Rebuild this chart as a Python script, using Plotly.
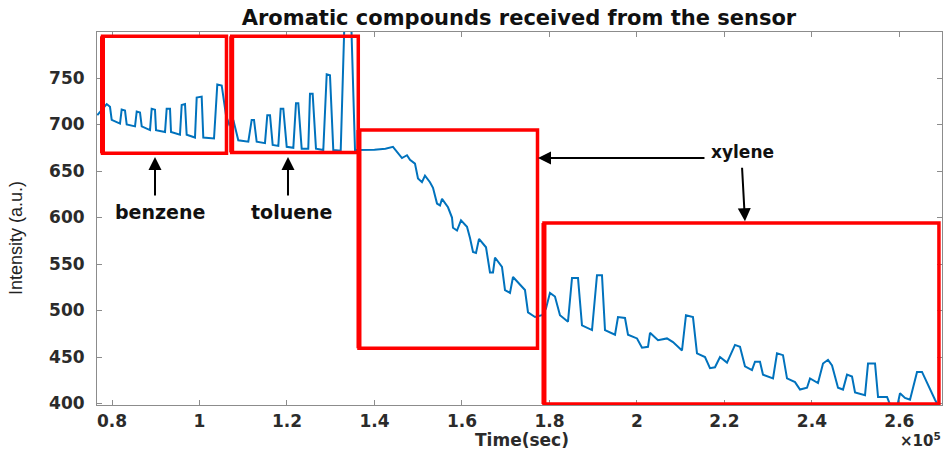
import plotly.graph_objects as go

# ---------------- data ----------------
time_s = [
    # benzene
    76640, 78790, 79540, 79930, 81830,
    82210, 82970, 83360, 85260,
    85650, 86400, 86790, 88690,
    89070, 89830, 90060, 92120,
    92500, 93260, 93490, 95540,
    95930, 96690, 97070, 98970,
    99360, 100500, 100870, 103320,
    104070, 105080, 106060,
    # toluene
    106800, 107730, 108870, 111160,
    111930, 112460, 113070, 114970,
    115500, 116120, 116730, 118020,
    118560, 119160, 119940, 121450,
    122060, 122590, 123360, 124870,
    125260, 125870, 126630, 128300,
    129080, 129830, 130590, 132280,
    133260, 134560, 135550,
    # xylene
    137150, 140000, 142500, 144230,
    146290, 147430, 148120, 149260, 149950, 150860, 151550, 152690,
    153380, 154300, 154980, 155440, 156810, 157720, 157950, 158870,
    159780, 161150, 161840, 162530, 163210, 163900, 165500, 165950,
    166410, 167100, 167550, 169150, 169840, 170980, 171670, 174410,
    175100, 176700,
    178300, 179200, 180120, 181260, 182410, 184240, 185160, 186530,
    187440, 189730, 190870, 192010, 192700, 194990, 195670, 197270,
    197960, 200020, 201160, 202530, 202990, 204820, 206870, 208240,
    210300, 211210, 212810, 213730, 215560, 216700, 217840, 218990,
    220590, 222420, 223560, 224700, 226300, 226990, 228130, 228820,
    231110, 232020, 233390, 234310, 236140, 237280, 238880, 239570,
    241390, 242540, 243680, 244600, 245970, 247110, 248030, 249170,
    249860, 252140, 252830, 254430, 255120, 257180, 258090, 259460,
    260140, 261280, 262430, 264030, 265170, 268140, 268830, 269510,
]
intensity = [
    # benzene
    710, 722, 719, 705, 701,
    716, 715, 700, 698,
    714, 713, 698, 694,
    717, 716, 694, 692,
    717, 717, 692, 689,
    721, 722, 689, 686,
    729, 730, 686, 685,
    743, 742, 710,
    # toluene
    700, 705, 683, 681.5,
    705, 705, 681.5, 680,
    710, 710, 678, 677,
    717, 717, 676, 675,
    723, 723, 674, 674,
    733, 733, 674, 672.6,
    754, 753, 672.6, 671.8,
    830, 830, 672.6,
    # xylene
    672.5, 673, 674, 676,
    664, 667, 662, 658, 642, 638, 645, 638,
    632, 615, 613, 620, 611, 600, 589, 586,
    597, 590, 578, 563, 562, 577, 568, 556,
    541, 541, 557, 547, 522, 519, 536, 522,
    498, 493,
    495, 502, 519, 515, 495, 488, 535, 535,
    484, 479, 538, 538, 479, 474, 493, 492,
    474, 470, 460, 461, 476, 468, 470, 466,
    457, 495, 493, 454, 450, 438, 439, 450,
    444, 463, 461, 440, 436, 445, 445, 431,
    427, 454, 452, 427, 423, 415, 417, 427,
    422, 443, 447, 441, 417, 415, 431, 429,
    412, 409, 443, 443, 407, 407, 396, 396,
    411, 406, 404, 434, 434, 404, 398, 396,
]

x_tick_vals = [80000, 100000, 120000, 140000, 160000, 180000, 200000, 220000, 240000, 260000]
x_tick_text = ["0.8", "1", "1.2", "1.4", "1.6", "1.8", "2", "2.2", "2.4", "2.6"]
y_tick_vals = [400, 450, 500, 550, 600, 650, 700, 750]

# region boxes (time start, time end, intensity low, intensity high)
box_t0 = [77830, 107360, 136460, 178750]
box_t1 = [106170, 136300, 177270, 269040]
box_v0 = [669, 670, 459.4, 399.5]
box_v1 = [794.9, 794.9, 694, 594]

label_names = ["benzene", "toluene", "xylene"]

# ---------------- figure ----------------
W, H = 947, 452
M_L, M_R, M_T, M_B = 97, 5, 32, 47
PW, PH = W - M_L - M_R, H - M_T - M_B

def px_x(p):
    return (p - M_L) / PW

def px_y(p):
    return (H - M_B - p) / PH

fig = go.Figure()
fig.add_trace(go.Scatter(
    x=time_s, y=intensity, mode="lines",
    line=dict(color="#0072BD", width=2),
    hoverinfo="skip", showlegend=False,
))

shapes = []
for a, b, c, d in zip(box_t0, box_t1, box_v0, box_v1):
    shapes.append(dict(type="rect", xref="x", yref="y", x0=a, x1=b, y0=c, y1=d,
                       line=dict(color="#FF0000", width=3.5), layer="above"))
    shapes.append(dict(type="line", xref="x", yref="y", x0=a, x1=a, y0=c, y1=d,
                       line=dict(color="#FF0000", width=5), layer="above"))

tick_font = dict(family="DejaVu Sans", size=17, color="#2b2b2b", weight="bold")
label_font = dict(family="DejaVu Sans", size=19, color="#111111", weight="bold")

def arrow(x, y, ax, ay):
    return dict(x=x, y=y, xref="x", yref="y", ax=ax, ay=ay, axref="pixel", ayref="pixel",
                text="", showarrow=True, arrowhead=2, arrowsize=1.3, arrowwidth=2,
                arrowcolor="#000000")

annotations = [
    arrow(89830, 665, 0, 40),
    arrow(120230, 665, 0, 40),
    arrow(177380, 664, 168, 0),
    arrow(224700, 596, -3, -55),
    dict(x=90970, y=606, xref="x", yref="y", text=label_names[0], showarrow=False,
         font=label_font, xanchor="center", yanchor="middle"),
    dict(x=120920, y=606, xref="x", yref="y", text=label_names[1], showarrow=False,
         font=label_font, xanchor="center", yanchor="middle"),
    dict(x=224130, y=670, xref="x", yref="y", text=label_names[2], showarrow=False,
         font=dict(family="DejaVu Sans", size=17, color="#111111", weight="bold"),
         xanchor="center", yanchor="middle"),
    dict(x=px_x(16), y=px_y(238), xref="paper", yref="paper",
         text="Intensity (a.u.)", textangle=-90, showarrow=False,
         xanchor="center", yanchor="middle",
         font=dict(family="Liberation Sans", size=18, color="#222222")),
    dict(x=px_x(522), y=px_y(440), xref="paper", yref="paper",
         text="Time(sec)", showarrow=False, xanchor="center", yanchor="middle",
         font=dict(family="DejaVu Sans", size=17, color="#2b2b2b", weight="bold")),
    dict(x=px_x(943), y=px_y(440), xref="paper", yref="paper",
         text="×10<sup>5</sup>", showarrow=False, xanchor="right", yanchor="middle",
         font=dict(family="DejaVu Sans", size=15, color="#2b2b2b", weight="bold")),
]

axis_common = dict(showline=True, linecolor="#8c8c8c", linewidth=1, mirror="ticks",
                   ticks="inside", ticklen=5, tickcolor="#8c8c8c", tickwidth=1,
                   showgrid=False, zeroline=False, tickfont=tick_font)

fig.update_layout(
    width=W, height=H,
    margin=dict(l=M_L, r=M_R, t=M_T, b=M_B, pad=0),
    paper_bgcolor="white", plot_bgcolor="white",
    title=dict(text="Aromatic compounds received from the sensor", x=519 / W, xanchor="center",
               y=1 - 18 / H, yanchor="middle", yref="container",
               font=dict(family="DejaVu Sans", size=21, color="#111111", weight="bold")),
    xaxis=dict(range=[76570, 269740], tickvals=x_tick_vals, ticktext=x_tick_text,
               ticklabelstandoff=1, **axis_common),
    yaxis=dict(range=[398.4, 799.5], tickvals=y_tick_vals, ticklabelstandoff=8, **axis_common),
    shapes=shapes,
    annotations=annotations,
    showlegend=False,
)

fig.write_html("out.html")
